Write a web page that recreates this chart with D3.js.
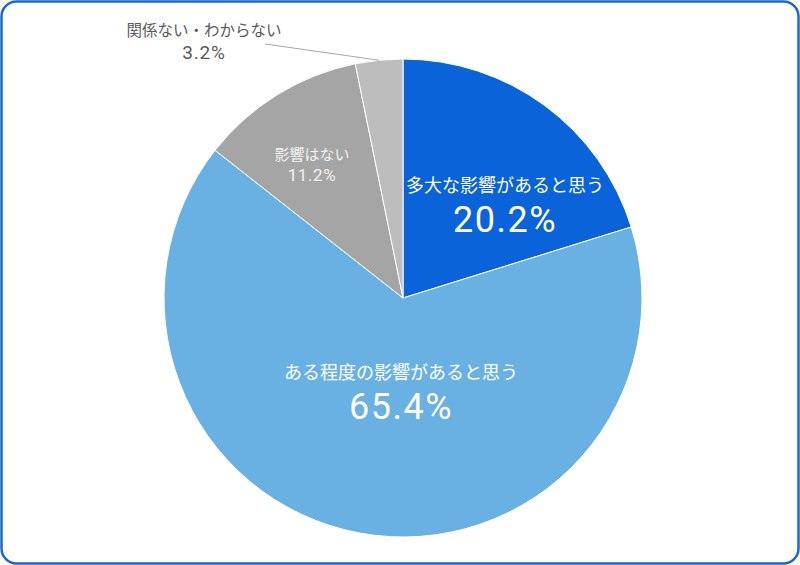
<!DOCTYPE html>
<html>
<head>
<meta charset="utf-8">
<script src="https://cdn.jsdelivr.net/npm/d3@7"></script>
<style>
  body { margin: 0; background: #fff; }
  svg text { font-family: "Noto Sans CJK JP", "Noto Sans", sans-serif; }
  svg text.val { font-family: Roboto, "Noto Sans", sans-serif; }
</style>
</head>
<body>
<svg id="chart" width="800" height="565"></svg>
<script>
// data
var categories = ["多大な影響があると思う", "ある程度の影響があると思う", "影響はない", "関係ない・わからない"];
var values = [20.2, 65.4, 11.2, 3.2];
var colors = ["#0a63d8", "#69b0e3", "#a5a5a5", "#bdbdbd"];

var width = 800, height = 565;
var cx = 403, cy = 298, radius = 239;

var svg = d3.select("#chart");

// outer frame
svg.append("rect")
  .attr("x", 1.5).attr("y", 1.5)
  .attr("width", width - 3).attr("height", height - 3)
  .attr("rx", 15).attr("ry", 15)
  .attr("fill", "#fff")
  .attr("stroke", "#1f66cc")
  .attr("stroke-width", 2.5);

var pie = d3.pie().sort(null).value(function(d){ return d; });
var arc = d3.arc().innerRadius(0).outerRadius(radius);
var arcs = pie(values);

var g = svg.append("g").attr("transform", "translate(" + cx + "," + cy + ")");

g.selectAll("path")
  .data(arcs)
  .enter()
  .append("path")
  .attr("d", arc)
  .attr("fill", function(d, i){ return colors[i]; })
  .attr("stroke", "#fff")
  .attr("stroke-width", 1);

// label positions (relative to centre), sizes, colours
var labelPos = [[102, -106], [-2, 81], [-91, -138], [-199, -262]];
var nameSize = [18, 18, 15, 15.5];
var valSize = [36, 36, 17, 19];
var valSpace = [1.5, 1.5, 0.6, 0.8];
var valGap = [40, 40, 21, 23];
var textCol = ["#fff", "#fff", "#f2f2f2", "#595959"];

// leader line for the small slice
var small = arcs[3];
var mid = (small.startAngle + small.endAngle) / 2;
g.append("line")
  .attr("x1", -138).attr("y1", -254)
  .attr("x2", Math.sin(mid) * radius).attr("y2", -Math.cos(mid) * radius)
  .attr("stroke", "#a6a6a6")
  .attr("stroke-width", 1);

var labels = g.selectAll(".lbl")
  .data(arcs)
  .enter()
  .append("g")
  .attr("class", "lbl")
  .attr("transform", function(d, i){ return "translate(" + labelPos[i][0] + "," + labelPos[i][1] + ")"; });

labels.append("text")
  .attr("text-anchor", "middle")
  .attr("font-size", function(d, i){ return nameSize[i]; })
  .attr("fill", function(d, i){ return textCol[i]; })
  .text(function(d, i){ return categories[i]; });

labels.append("text")
  .attr("class", "val")
  .attr("text-anchor", "middle")
  .attr("y", function(d, i){ return valGap[i]; })
  .attr("font-size", function(d, i){ return valSize[i]; })
  .attr("letter-spacing", function(d, i){ return valSpace[i]; })
  .attr("fill", function(d, i){ return textCol[i]; })
  .text(function(d){ return d.data.toFixed(1) + "%"; });
</script>
</body>
</html>
